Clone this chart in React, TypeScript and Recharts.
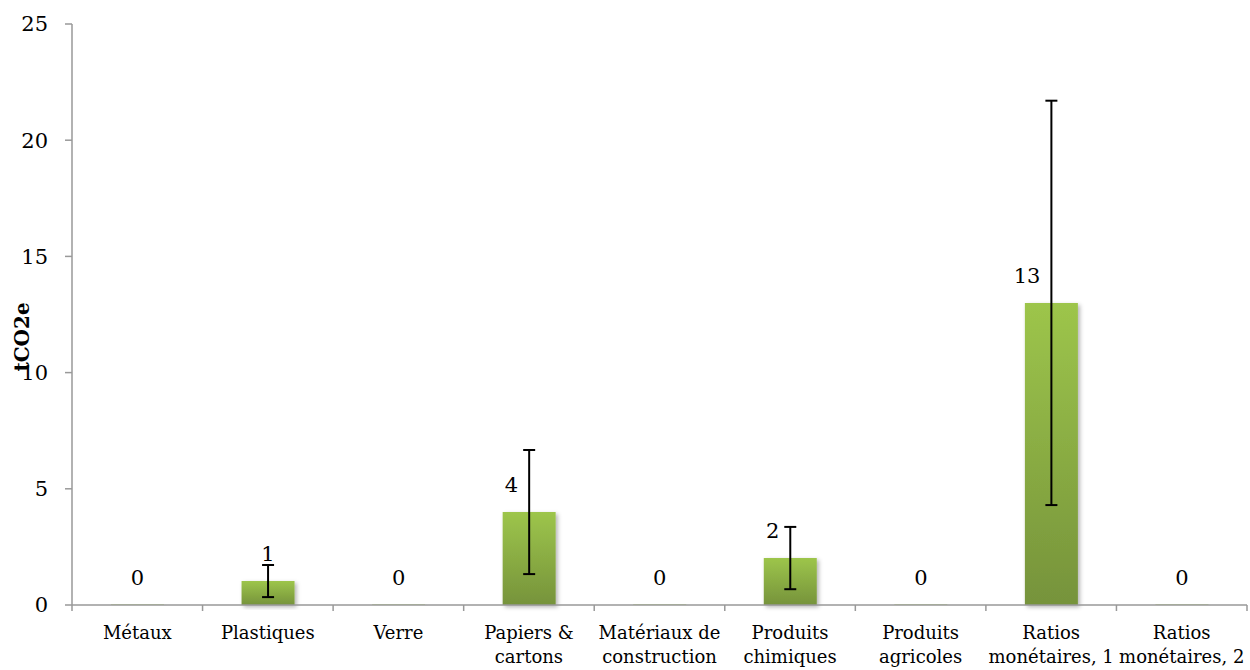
import { BarChart, Bar, XAxis, YAxis, ErrorBar, LabelList } from 'recharts';

// tCO2e per purchase category, with the uncertainty (± delta)
const categories = [
  'Métaux',
  'Plastiques',
  'Verre',
  'Papiers &\ncartons',
  'Matériaux de\nconstruction',
  'Produits\nchimiques',
  'Produits\nagricoles',
  'Ratios\nmonétaires, 1',
  'Ratios\nmonétaires, 2',
];
const emissions = [0, 1.03, 0, 4.0, 0, 2.02, 0, 13.0, 0];
const uncertainty = [null, 0.69, null, 2.67, null, 1.34, null, 8.7, null];
const yTicks = [0, 5, 10, 15, 20, 25];

const data = categories.map((name, i) => ({
  name,
  value: emissions[i],
  err: uncertainty[i] == null ? null : [uncertainty[i], uncertainty[i]],
}));

const FONT = '"DejaVu Serif", serif';
const WIDTH = 1250;
const HEIGHT = 670;
const PLOT_LEFT = 72;
const PLOT_RIGHT = 1247;
const PLOT_BOTTOM = 605;
const BAND = (PLOT_RIGHT - PLOT_LEFT) / categories.length;

function CategoryTick(props: any) {
  const { x, payload, index } = props;
  const lines = String(payload.value).split('\n');
  const left = x - BAND / 2;
  const right = x + BAND / 2;
  return (
    <g>
      <line x1={left} y1={PLOT_BOTTOM} x2={left} y2={PLOT_BOTTOM + 6} stroke="#999" strokeWidth={1.5} />
      {index === categories.length - 1 && (
        <line x1={right} y1={PLOT_BOTTOM} x2={right} y2={PLOT_BOTTOM + 6} stroke="#999" strokeWidth={1.5} />
      )}
      {lines.map((ln, i) => (
        <text
          key={i}
          x={x}
          y={PLOT_BOTTOM + 34 + i * 24}
          textAnchor="middle"
          fontFamily={FONT}
          fontSize={18}
          fill="#000"
        >
          {ln}
        </text>
      ))}
    </g>
  );
}

function ValueLabel(props: any) {
  const { x, y, width, value } = props;
  const cx = x + width / 2;
  const shifted = value >= 2;
  return (
    <text
      x={shifted ? cx - 11 : cx}
      y={y - 20}
      textAnchor={shifted ? 'end' : 'middle'}
      fontFamily={FONT}
      fontSize={21}
      fill="#000"
    >
      {Math.round(value)}
    </text>
  );
}

function AxisTitle() {
  return (
    <text
      transform="translate(29, 337) rotate(-90)"
      textAnchor="middle"
      fontFamily={FONT}
      fontWeight="bold"
      fontSize={20}
      fill="#000"
    >
      tCO2e
    </text>
  );
}

export default function App() {
  return (
    <div style={{ position: 'absolute', left: 0, top: 0, background: '#fff' }}>
      <BarChart
        width={WIDTH}
        height={HEIGHT}
        data={data}
        margin={{ top: 24, right: WIDTH - PLOT_RIGHT, left: 0, bottom: 0 }}
      >
        <defs>
          <linearGradient id="barGreen" x1="0" y1="0" x2="0" y2="1">
            <stop offset="0%" stopColor="#9dc54b" />
            <stop offset="100%" stopColor="#76933b" />
          </linearGradient>
          <filter id="barShadow" x="-20%" y="-20%" width="140%" height="140%">
            <feDropShadow dx="2" dy="2" stdDeviation="2" floodColor="#000" floodOpacity="0.3" />
          </filter>
        </defs>
        <XAxis
          dataKey="name"
          interval={0}
          height={HEIGHT - PLOT_BOTTOM}
          tickLine={false}
          axisLine={{ stroke: '#999', strokeWidth: 1.5 }}
          tick={<CategoryTick />}
        />
        <YAxis
          width={PLOT_LEFT}
          domain={[0, 25]}
          ticks={yTicks}
          tickSize={7}
          tickMargin={17}
          axisLine={{ stroke: '#999', strokeWidth: 1.5 }}
          tickLine={{ stroke: '#999', strokeWidth: 1.5 }}
          tick={{ fontFamily: FONT, fontSize: 21, fill: '#000' }}
          label={<AxisTitle />}
        />
        <Bar
          dataKey="value"
          barSize={53}
          minPointSize={0.5}
          fill="url(#barGreen)"
          filter="url(#barShadow)"
          isAnimationActive={false}
        >
          <ErrorBar dataKey="err" width={6} stroke="#000" strokeWidth={2} direction="y" />
          <LabelList dataKey="value" content={<ValueLabel />} />
        </Bar>
      </BarChart>
    </div>
  );
}
